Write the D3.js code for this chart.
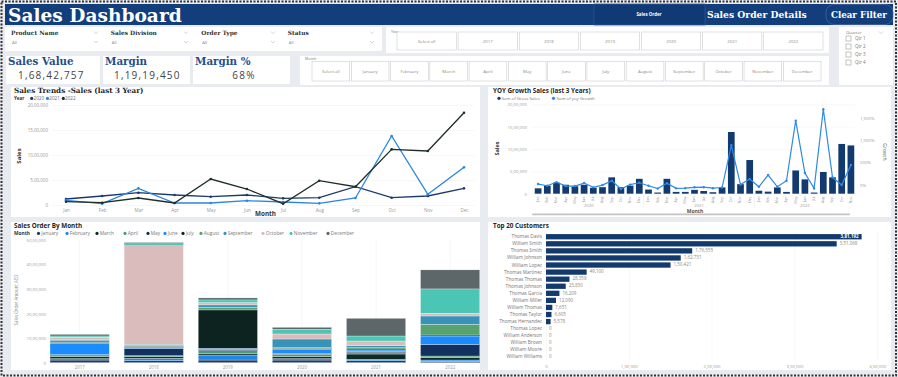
<!DOCTYPE html>
<html>
<head>
<meta charset="utf-8">
<script src="https://cdn.jsdelivr.net/npm/d3@7"></script>
<style>
  body { margin: 0; background: #e8ebef; }
</style>
</head>
<body>
<script>
// ---- data ----
const months = ["Jan", "Feb", "Mar", "Apr", "May", "Jun", "Jul", "Aug", "Sep", "Oct", "Nov", "Dec"];
const monthNames = ["January", "February", "March", "April", "May", "June", "July", "August", "September", "October", "November", "December"];

const filterNames = ["Product Name", "Sales Division", "Order Type", "Status"];
const yearButtons = ["Select all", "2017", "2018", "2019", "2020", "2021", "2022"];
const monthButtons = ["Select all"].concat(monthNames);
const quarters = ["Qtr 1", "Qtr 2", "Qtr 3", "Qtr 4"];

const kpiTitles = ["Sales Value", "Margin", "Margin %"];
const kpiValues = ["1,68,42,757", "1,19,19,450", "68%"];

// monthly sales, last 3 years
const trendYears = ["2020", "2021", "2022"];
const sales2020 = [120000, 180000, 246000, 200000, 166000, 200000, 133000, 146000, 366000, 146000, 180000, 333000];
const sales2021 = [93000, 26000, 333000, 40000, 40000, 86000, 60000, 33000, 140000, 1380000, 213000, 753000];
const sales2022 = [66000, 46000, 140000, 40000, 520000, 320000, 26000, 486000, 366000, 1113000, 1080000, 1846000];

// yoy growth % (visible months Jan 2020 .. Nov 2022)
const growth2020 = [16, -22, 60, -29, -29, 38, -58, -7, 90, -95, 4, 45];
const growth2021 = [-22, -86, 35, -80, -76, -57, -55, -77, -62, 883, 3, 128];
const growth2022 = [-45, 217, -45, 90, 1434, 262, -81, 1689, 166, -7, 441];

// sales order amount by year, stacked by month
const orderYears = ["2017", "2018", "2019", "2020", "2021", "2022"];
const order2017 = [109000, 54000, 82000, 41000, 41000, 463000, 41000, 68000, 54000, 82000, 54000, 68000];
const order2018 = [82000, 95000, 68000, 41000, 299000, 41000, 41000, 41000, 41000, 4014000, 82000, 54000];
const order2019 = [109000, 204000, 68000, 109000, 54000, 41000, 1565000, 109000, 95000, 95000, 109000, 82000];
const order2020 = [109000, 54000, 82000, 95000, 41000, 163000, 41000, 27000, 354000, 204000, 190000, 82000];
const order2021 = [82000, 54000, 218000, 54000, 41000, 68000, 41000, 54000, 82000, 190000, 204000, 721000];
const order2022 = [41000, 68000, 95000, 68000, 476000, 340000, 41000, 435000, 340000, 109000, 993000, 776000];

// top 20 customers
const customers = ["Thomas Davis", "William Smith", "Thomas Smith", "William Johnson", "William Lopez", "Thomas Martinez",
  "Thomas Thomas", "Thomas Johnson", "Thomas Garcia", "William Miller", "William Thomas", "Thomas Taylor",
  "Thomas Hernandez", "Thomas Lopez", "William Anderson", "William Brown", "William Moore", "William Williams"];
const customerSales = [381192, 351068, 176555, 162731, 150421, 49100, 28358, 23830, 16209, 12090, 7651, 6605, 5578, 0, 0, 0, 0, 0];

// ---- helpers ----
function inr(n) {
  const s = String(Math.round(Math.abs(n)));
  if (s.length <= 3) return s;
  const rest = s.slice(0, -3).replace(/\B(?=(\d{2})+(?!\d))/g, ",");
  return rest + "," + s.slice(-3);
}
const navy = "#123e7c";
const serif = "DejaVu Serif, serif";
const sans = "Open Sans, sans-serif";

const W = 898, H = 377;
const svg = d3.select("body").append("svg").attr("width", W).attr("height", H);
svg.append("rect").attr("width", W).attr("height", H).attr("fill", "#e8ebef");

function panel(x, y, w, h) {
  svg.append("rect").attr("x", x).attr("y", y).attr("width", w).attr("height", h).attr("fill", "#fff");
}
function txt(x, y, s, size, opts = {}) {
  return svg.append("text").attr("x", x).attr("y", y).text(s)
    .attr("font-size", size)
    .attr("fill", opts.fill || "#666")
    .attr("font-weight", opts.weight || "normal")
    .style("font-family", opts.family || sans)
    .attr("text-anchor", opts.anchor || "start")
    .attr("dominant-baseline", opts.base || "auto");
}
function chevron(x, y) {
  svg.append("path").attr("d", `M${x - 2},${y - 1}L${x},${y + 1}L${x + 2},${y - 1}`)
    .attr("fill", "none").attr("stroke", "#aaa").attr("stroke-width", 0.5);
}
function styleAxis(g, size) {
  g.select(".domain").remove();
  g.selectAll("text").attr("font-size", size).attr("fill", "#999").style("font-family", sans);
}

// ---- header ----
svg.append("rect").attr("x", 5).attr("y", 4).attr("width", 888).attr("height", 21).attr("fill", navy);
svg.append("rect").attr("x", 594).attr("y", 4).attr("width", 111).attr("height", 21)
  .attr("fill", "#103a76").attr("stroke", "#2c5a98").attr("stroke-width", 0.7);
svg.append("rect").attr("x", 826).attr("y", 4.5).attr("width", 67).attr("height", 20).attr("rx", 8)
  .attr("fill", navy).attr("stroke", "#4a6c9e").attr("stroke-width", 0.7);
txt(8, 21.5, "Sales Dashboard", 18.6, { fill: "#fff", weight: "bold", family: serif });
txt(649, 16, "Sales Order", 4.4, { fill: "#fff", weight: "bold", anchor: "middle" });
txt(707, 18, "Sales Order Details", 9.2, { fill: "#fff", weight: "bold", family: serif });
txt(831, 18, "Clear Filter", 8.7, { fill: "#fff", weight: "bold", family: serif });

// ---- filter dropdowns ----
panel(5, 27, 377, 24);
const filterX = [11, 110.7, 201.3, 287.7];
const chevX = [96, 186, 273, 372];
filterNames.forEach((f, i) => {
  txt(filterX[i], 34.5, f, 5.9, { fill: "#333", weight: "bold", family: serif });
  txt(filterX[i] + 1, 43.5, "All", 4.3, { fill: "#888" });
  chevron(chevX[i], 32.5);
  chevron(chevX[i], 42);
});

// ---- year slicer ----
panel(386, 27, 443, 26);
txt(391, 32, "Year", 3.6, { fill: "#777", base: "middle" });
const yb = d3.scaleBand().domain(yearButtons).range([397, 823]).paddingInner(0.03);
yearButtons.forEach(b => {
  svg.append("rect").attr("x", yb(b)).attr("y", 32).attr("width", yb.bandwidth()).attr("height", 18)
    .attr("fill", "#fff").attr("stroke", "#ccc").attr("stroke-width", 0.6);
  txt(yb(b) + yb.bandwidth() / 2, 41.5, b, 4.3, { fill: "#888", anchor: "middle", base: "middle" });
});

// ---- quarter slicer ----
panel(839, 27, 54, 58);
txt(846, 32.5, "Quarter", 4.3, { fill: "#777", base: "middle" });
chevron(881, 32.5);
quarters.forEach((q, i) => {
  const cy = 38.5 + i * 8;
  svg.append("rect").attr("x", 846).attr("y", cy - 2.5).attr("width", 5).attr("height", 5)
    .attr("fill", "#fff").attr("stroke", "#888").attr("stroke-width", 0.5);
  txt(855, cy, q, 4.5, { fill: "#777", base: "middle" });
});

// ---- KPI cards ----
const cardX = [6, 103, 193], cardW = [94, 87, 97];
const valueX = [18, 114, 244];
kpiTitles.forEach((t, i) => {
  panel(cardX[i], 56, cardW[i], 28);
  txt(cardX[i] + 2, 64.5, t, 10.3, { fill: "#1f4e8c", weight: "bold", family: serif });
  txt(valueX[i], 78.8, kpiValues[i], 10, { fill: "#444", anchor: i === 2 ? "middle" : "start" })
    .attr("letter-spacing", 1.2);
});

// ---- month slicer ----
panel(300, 56, 529, 29);
txt(305, 59.5, "Month", 3.6, { fill: "#777", base: "middle" });
const mb = d3.scaleBand().domain(monthButtons).range([312, 821]).paddingInner(0.04);
monthButtons.forEach(b => {
  svg.append("rect").attr("x", mb(b)).attr("y", 61.5).attr("width", mb.bandwidth()).attr("height", 19.5)
    .attr("fill", "#fff").attr("stroke", "#ccc").attr("stroke-width", 0.6);
  txt(mb(b) + mb.bandwidth() / 2, 71.5, b, 4.3, { fill: "#888", anchor: "middle", base: "middle" });
});

// ---- Sales trends line chart ----
panel(11, 87, 469, 130);
txt(14, 93.3, "Sales Trends -Sales (last 3 Year)", 7.2, { fill: "#252525", weight: "bold", family: serif });
const lineColors = ["#1d3a6c", "#2c86df", "#1f2e2b"];
const lineSeries = [sales2020, sales2021, sales2022];
txt(14, 100, "Year", 4.6, { fill: "#333", weight: "bold" });
trendYears.forEach((yname, i) => {
  svg.append("circle").attr("cx", 31.7 + i * 15.8).attr("cy", 98.4).attr("r", 1.6).attr("fill", lineColors[i]);
  txt(33.5 + i * 15.8, 100, yname, 4.6, { fill: "#666" });
});

const lx = d3.scalePoint().domain(months).range([66, 464]);
const ly = d3.scaleLinear().domain([0, 2000000]).range([205, 105]);
const lTicks = [0, 500000, 1000000, 1500000, 2000000];
svg.append("g").attr("transform", "translate(52,0)")
  .call(d3.axisLeft(ly).tickValues(lTicks).tickSize(-422).tickFormat(inr).tickPadding(4))
  .call(g => styleAxis(g, 4.5))
  .call(g => g.selectAll("line").attr("stroke", "#efefef").attr("stroke-width", 0.5));
svg.append("g").attr("transform", "translate(0,205)")
  .call(d3.axisBottom(lx).tickSize(0).tickPadding(4))
  .call(g => styleAxis(g, 4.6));
txt(19.5, 156, "Sales", 6, { fill: "#333", weight: "bold", anchor: "middle", base: "middle" })
  .attr("transform", "rotate(-90,19.5,156)");
txt(265.5, 215.5, "Month", 6.3, { fill: "#333", weight: "bold", anchor: "middle" });

const line = d3.line().x((d, i) => lx(months[i])).y(d => ly(d));
lineSeries.forEach((s, i) => {
  svg.append("path").datum(s).attr("d", line).attr("fill", "none")
    .attr("stroke", lineColors[i]).attr("stroke-width", 1.3);
  svg.selectAll(null).data(s).enter().append("circle")
    .attr("cx", (d, j) => lx(months[j])).attr("cy", d => ly(d)).attr("r", 1.3).attr("fill", lineColors[i]);
});

// ---- YOY growth combo chart ----
panel(488, 87, 403, 130);
txt(493, 92.5, "YOY Growth Sales (last 3 Years)", 6.3, { fill: "#252525", weight: "bold" });
svg.append("circle").attr("cx", 499).attr("cy", 98.3).attr("r", 1.6).attr("fill", "#133a6e");
txt(501.5, 99.8, "Sum of Gross Sales", 4.3, { fill: "#777" });
svg.append("circle").attr("cx", 553.5).attr("cy", 98.3).attr("r", 1.6).attr("fill", "#2d8ae6");
txt(556.5, 99.8, "Sum of yoy Growth", 4.3, { fill: "#777" });

const yoySales = sales2020.concat(sales2021, sales2022).slice(0, 35);
const yoyGrowth = growth2020.concat(growth2021, growth2022);
const yoyKeys = yoySales.map((d, i) => i);
const bx = d3.scaleBand().domain(yoyKeys).range([533.5, 855.5]).paddingInner(0.27).paddingOuter(0.135);
const by = d3.scaleLinear().domain([0, 2000000]).range([193.7, 104.3]);
const gy = d3.scaleLinear().domain([-200, 1800]).range([193.7, 104.3]);

svg.append("g").attr("transform", "translate(531,0)")
  .call(d3.axisLeft(by).tickValues(lTicks).tickSize(-324).tickFormat(inr).tickPadding(4))
  .call(g => styleAxis(g, 4.3))
  .call(g => g.selectAll("line").attr("stroke", "#f1f1f1").attr("stroke-width", 0.5));
svg.append("g").attr("transform", "translate(856,0)")
  .call(d3.axisRight(gy).tickValues([0, 500, 1000, 1500]).tickSize(0).tickPadding(4).tickFormat(d => d3.format(",")(d) + "%"))
  .call(g => styleAxis(g, 4.3));

svg.selectAll(null).data(yoySales).enter().append("rect")
  .attr("x", (d, i) => bx(i)).attr("y", d => by(d))
  .attr("width", bx.bandwidth()).attr("height", d => by(0) - by(d)).attr("fill", "#133a6e");

const gline = d3.line().x((d, i) => bx(i) + bx.bandwidth() / 2).y(d => gy(d));
svg.append("path").datum(yoyGrowth).attr("d", gline).attr("fill", "none")
  .attr("stroke", "#2d8ae6").attr("stroke-width", 1.2);
svg.selectAll(null).data(yoyGrowth).enter().append("circle")
  .attr("cx", (d, i) => bx(i) + bx.bandwidth() / 2).attr("cy", d => gy(d)).attr("r", 1.2).attr("fill", "#2d8ae6");

yoySales.forEach((d, i) => {
  const cx = bx(i) + bx.bandwidth() / 2;
  txt(cx, 196.5, months[i % 12], 3.6, { fill: "#999", anchor: "end", base: "middle" })
    .attr("transform", `rotate(-90,${cx},196.5)`);
});
trendYears.forEach((yname, k) => {
  const first = k * 12, last = Math.min(k * 12 + 11, 34);
  const x0 = bx(first), x1 = bx(last) + bx.bandwidth();
  txt((x0 + x1) / 2, 207, yname, 4.3, { fill: "#999", anchor: "middle" });
  if (k > 0) svg.append("line").attr("x1", x0 - 1.3).attr("x2", x0 - 1.3).attr("y1", 195).attr("y2", 208)
    .attr("stroke", "#e2e2e2").attr("stroke-width", 0.5);
});
txt(695, 212.5, "Month", 5, { fill: "#555", weight: "bold", anchor: "middle" });
svg.append("rect").attr("x", 532).attr("y", 213.5).attr("width", 318).attr("height", 1.8).attr("rx", 0.9).attr("fill", "#c4c4c4");
txt(497.5, 148.5, "Sales", 5.5, { fill: "#333", weight: "bold", anchor: "middle", base: "middle" })
  .attr("transform", "rotate(-90,497.5,148.5)");
txt(884.5, 152, "Growth", 5, { fill: "#666", anchor: "middle", base: "middle" })
  .attr("transform", "rotate(90,884.5,152)");

// ---- Sales order by month (stacked) ----
panel(11, 222, 469, 148);
txt(14, 227.8, "Sales Order By Month", 6.3, { fill: "#252525", weight: "bold" });
const monthColors = ["#1c3b6b", "#1e88e8", "#0f2b25", "#4e9a78", "#12315f", "#1a8cff",
  "#0c231f", "#58a170", "#3793b8", "#dbbcbc", "#4cc6b4", "#5d676a"];
txt(14, 235, "Month", 4.8, { fill: "#333", weight: "bold" });
const legendX = [38.5, 67, 97, 125, 148, 165, 183, 201, 225, 263, 291, 328];
monthNames.forEach((m, i) => {
  svg.append("circle").attr("cx", legendX[i]).attr("cy", 233.4).attr("r", 1.6).attr("fill", monthColors[i]);
  txt(legendX[i] + 2.8, 235, m, 4.8, { fill: "#777" });
});

const orderSeries = [order2017, order2018, order2019, order2020, order2021, order2022];
const stackRows = orderYears.map((yname, k) => {
  const row = { year: yname };
  monthNames.forEach((m, j) => { row[m] = orderSeries[k][j]; });
  return row;
});
const stacked = d3.stack().keys(monthNames)(stackRows);
const sx = d3.scaleBand().domain(orderYears).range([42.6, 487.2]).paddingInner(0.2).paddingOuter(0.1);
const sy = d3.scaleLinear().domain([0, 5000000]).range([362.7, 240]);

svg.append("defs").append("clipPath").attr("id", "stackClip")
  .append("rect").attr("x", 11).attr("y", 222).attr("width", 469).attr("height", 148);

orderYears.forEach(yname => {
  svg.append("line").attr("x1", sx(yname) + sx.bandwidth() / 2).attr("x2", sx(yname) + sx.bandwidth() / 2)
    .attr("y1", 240).attr("y2", 362.7).attr("stroke", "#eeeeee").attr("stroke-width", 0.6);
});
svg.append("g").attr("transform", "translate(50,0)")
  .call(d3.axisLeft(sy).ticks(5).tickSize(0).tickFormat(inr).tickPadding(4))
  .call(g => styleAxis(g, 4.3));
svg.append("g").attr("transform", "translate(0,362.7)")
  .call(d3.axisBottom(sx).tickSize(0).tickPadding(3))
  .call(g => styleAxis(g, 4.4));
txt(17, 300, "Sales Order Amount AED", 4.4, { fill: "#888", anchor: "middle", base: "middle" })
  .attr("transform", "rotate(-90,17,300)");

const stackG = svg.append("g").attr("clip-path", "url(#stackClip)");
stacked.forEach((layer, j) => {
  stackG.selectAll(null).data(layer).enter().append("rect")
    .attr("x", d => sx(d.data.year)).attr("width", sx.bandwidth())
    .attr("y", d => sy(d[1])).attr("height", d => sy(d[0]) - sy(d[1]))
    .attr("fill", monthColors[j]).attr("stroke", "#fff").attr("stroke-width", 0.3);
});

// ---- Top 20 customers ----
panel(488, 222, 403, 148);
txt(493, 227.8, "Top 20 Customers", 6.3, { fill: "#252525", weight: "bold" });
const cx = d3.scaleLinear().domain([0, 400000]).range([546, 877.2]);
const cy = d3.scaleBand().domain(customers).range([233.2, 360.5]).paddingInner(0.25).paddingOuter(0.125);
svg.append("g").attr("transform", "translate(0,360.5)")
  .call(d3.axisBottom(cx).tickValues([0, 100000, 200000, 300000, 400000]).tickSize(-128).tickFormat(inr).tickPadding(4.5))
  .call(g => styleAxis(g, 4.3))
  .call(g => g.selectAll("line").attr("stroke", "#efefef").attr("stroke-width", 0.5));
svg.append("g").attr("transform", "translate(543,0)")
  .call(d3.axisLeft(cy).tickSize(0).tickPadding(1))
  .call(g => styleAxis(g, 4.7))
  .call(g => g.selectAll("text").attr("fill", "#777"));
svg.selectAll(null).data(customerSales).enter().append("rect")
  .attr("x", cx(0)).attr("y", (d, i) => cy(customers[i]))
  .attr("width", d => cx(d) - cx(0)).attr("height", cy.bandwidth()).attr("fill", "#133a6e");
customerSales.forEach((d, i) => {
  const yc = cy(customers[i]) + cy.bandwidth() / 2;
  if (i === 0) txt(cx(d) - 3, yc, inr(d), 4.5, { fill: "#fff", weight: "bold", anchor: "end", base: "middle" });
  else txt(cx(d) + 3, yc, inr(d), 4.5, { fill: "#888", base: "middle" });
});

// ---- dotted frame ----
svg.append("rect").attr("x", 1.5).attr("y", 1.5).attr("width", 894.5).attr("height", 374)
  .attr("fill", "none").attr("stroke", "#333").attr("stroke-width", 2).attr("stroke-dasharray", "2,1.5");
</script>
</body>
</html>
